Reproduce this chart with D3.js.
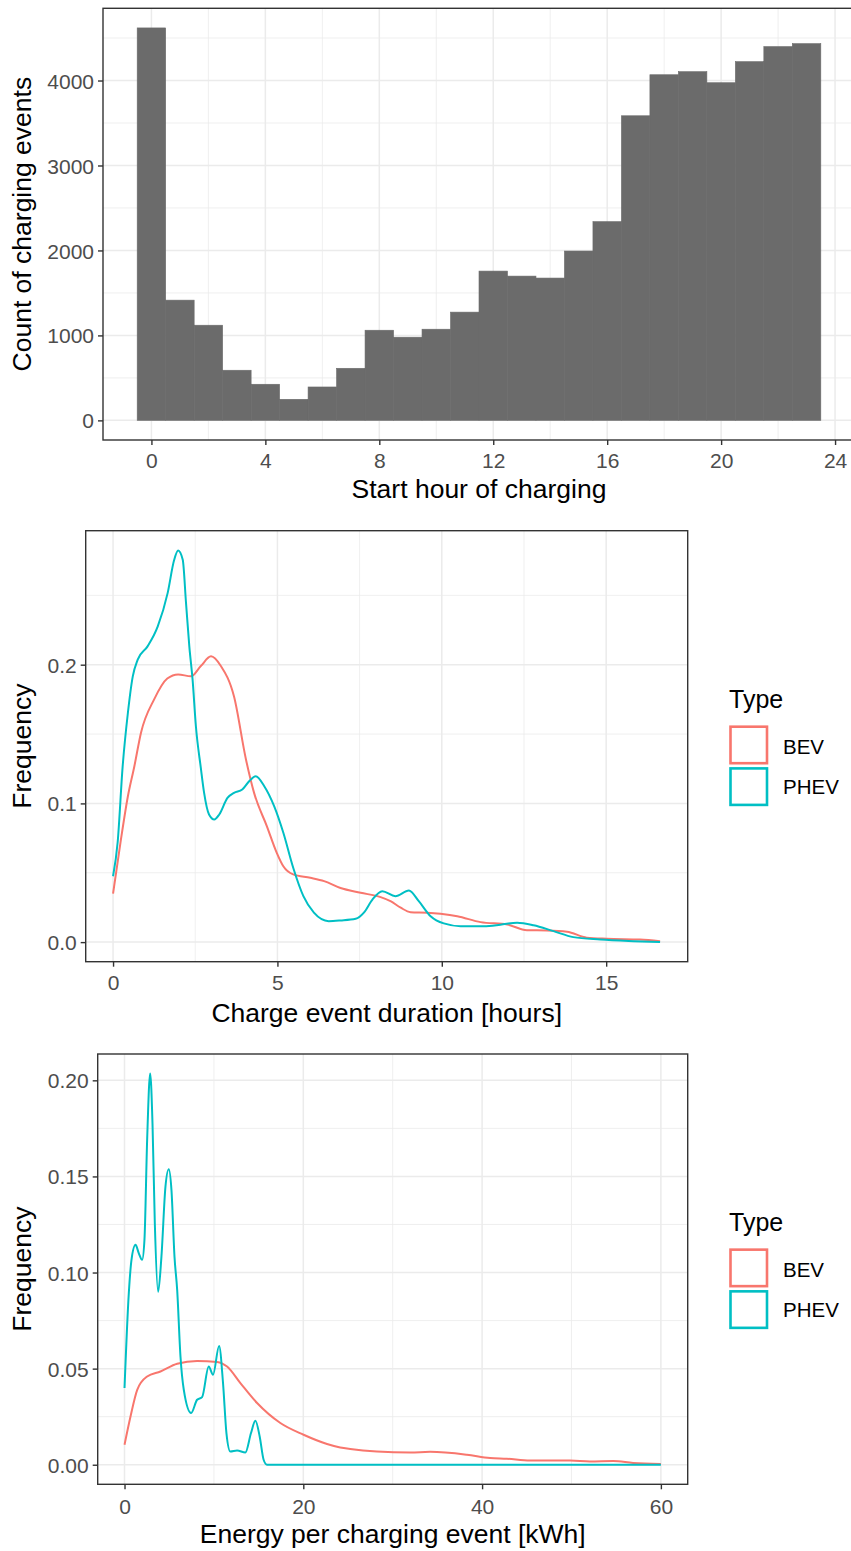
<!DOCTYPE html>
<html>
<head>
  <meta charset="utf-8"><script src="https://d3js.org/d3.v7.min.js"></script>
</head>
<body style="margin:0">
  <svg id="mychart" width="851" height="1551" style="background: white"></svg>
<script>
  // histogram: start hour of charging
  const hours = d3.range(0, 24)
  const hourCounts = [4619, 1415, 1120, 590, 425, 248, 393, 613, 1061, 979, 1073, 1274,
                      1757, 1698, 1675, 1993, 2339, 3585, 4068, 4104, 3974, 4222, 4399, 4434]
  const hourTicks = [0, 4, 8, 12, 16, 20, 24]
  const countTicks = [0, 1000, 2000, 3000, 4000]

  // density: charge event duration [hours]
  const durBevX = [0, 0.24, 0.45, 0.65, 0.85, 1.25, 1.65, 1.98, 2.37, 2.67, 2.98, 3.28, 3.68, 4.04, 4.29, 4.68, 4.98, 5.18, 5.48, 6.0, 6.42, 6.92, 7.53, 8.14, 8.44, 8.75, 9.05, 9.56, 9.96, 10.47, 11.18, 11.99, 12.59, 13.2, 13.81, 14.41, 15.02, 16.03, 16.64]
  const durBevY = [0.035, 0.074, 0.105, 0.127, 0.151, 0.175, 0.19, 0.193, 0.1916, 0.199, 0.206, 0.199, 0.177, 0.132, 0.1076, 0.0835, 0.0644, 0.0547, 0.0488, 0.0464, 0.044, 0.039, 0.0356, 0.0324, 0.0295, 0.0248, 0.0216, 0.0212, 0.0204, 0.0187, 0.0144, 0.0127, 0.0086, 0.0084, 0.0075, 0.0032, 0.0024, 0.0019, 0.0007]
  const durPhevX = [0, 0.14, 0.29, 0.45, 0.6, 0.75, 1.05, 1.36, 1.66, 1.86, 1.98, 2.12, 2.22, 2.32, 2.42, 2.52, 2.67, 2.77, 2.92, 3.08, 3.23, 3.48, 3.68, 3.93, 4.14, 4.34, 4.6, 4.9, 5.18, 5.48, 5.79, 6.11, 6.56, 6.92, 7.38, 7.63, 7.89, 8.19, 8.59, 9.0, 9.3, 9.66, 10.06, 10.57, 11.28, 11.78, 12.29, 12.79, 13.4, 14.0, 14.82, 15.83, 16.64]
  const durPhevY = [0.0475, 0.072, 0.126, 0.165, 0.1916, 0.2036, 0.2132, 0.2276, 0.2516, 0.2756, 0.2823, 0.2756, 0.2444, 0.2132, 0.189, 0.1556, 0.1256, 0.1076, 0.092, 0.0884, 0.092, 0.104, 0.1076, 0.11, 0.116, 0.1196, 0.1124, 0.098, 0.0788, 0.0536, 0.0331, 0.0212, 0.0151, 0.0156, 0.0168, 0.0212, 0.0307, 0.0367, 0.0331, 0.0372, 0.0295, 0.0187, 0.0135, 0.0115, 0.0115, 0.0125, 0.014, 0.0122, 0.0079, 0.0036, 0.0019, 0.0007, 0.0]
  const durTicks = [0, 5, 10, 15]
  const durFreqTicks = [0, 0.1, 0.2]

  // density: energy per charging event [kWh]
  const enBevX = [0, 0.67, 1.42, 2.53, 4.02, 5.89, 8.12, 10.36, 11.47, 12.96, 14.83, 17.43, 20.03, 22.65, 24.13, 25.25, 28.23, 31.96, 34.19, 38.3, 40.89, 42.76, 45.36, 49.83, 52.07, 54.67, 56.9, 60]
  const enBevY = [0.0104, 0.0251, 0.039, 0.0459, 0.0485, 0.0525, 0.054, 0.0535, 0.0511, 0.0425, 0.0321, 0.0217, 0.0156, 0.0108, 0.009, 0.0082, 0.0069, 0.0064, 0.0067, 0.0052, 0.0035, 0.0031, 0.0022, 0.0022, 0.0017, 0.0019, 0.0009, 0.0004]
  const enPhevX = [0, 0.48, 0.78, 1.23, 1.6, 1.97, 2.23, 2.53, 2.87, 3.13, 3.39, 3.76, 4.13, 4.58, 4.95, 5.25, 5.59, 5.89, 6.26, 6.63, 7.45, 8.12, 8.68, 9.42, 9.9, 10.58, 11.02, 11.4, 11.84, 12.59, 13.52, 14.15, 14.64, 15.12, 15.56, 15.94, 20, 30, 40, 50, 60]
  const enPhevY = [0.0399, 0.0893, 0.1066, 0.1144, 0.11, 0.1066, 0.117, 0.1689, 0.2036, 0.1776, 0.1256, 0.09, 0.1083, 0.1447, 0.1537, 0.143, 0.1083, 0.091, 0.0563, 0.039, 0.0269, 0.0338, 0.0352, 0.0511, 0.0468, 0.0618, 0.0425, 0.0165, 0.0069, 0.0074, 0.0064, 0.0165, 0.0229, 0.0147, 0.0026, 0, 0, 0, 0, 0, 0]
  const enTicks = [0, 20, 40, 60]
  const enFreqTicks = [0, 0.05, 0.1, 0.15, 0.2]

  const types = ["BEV", "PHEV"]
  const typeColors = ["#F8766D", "#00BFC4"]

  const svg = d3.select("#mychart")
  const font = "'Liberation Sans', Arial, Helvetica, sans-serif"

  // ggplot theme_bw-ish panel: grid, border, ticks, labels, titles
  function panel(p) {
    const x = d3.scaleLinear().domain(p.xdom).range([p.left, p.right])
    const y = d3.scaleLinear().domain(p.ydom).range([p.bottom, p.top])
    const g = svg.append("g")
    const clipId = "clip" + p.id
    g.append("clipPath").attr("id", clipId).append("rect")
      .attr("x", p.left).attr("y", p.top)
      .attr("width", p.right - p.left).attr("height", p.bottom - p.top)
    const inner = g.append("g").attr("clip-path", `url(#${clipId})`)

    // minor grid
    inner.selectAll(".xminor").data(p.xminor).join("line")
      .attr("x1", d => x(d)).attr("x2", d => x(d)).attr("y1", p.top).attr("y2", p.bottom)
      .attr("stroke", "#EBEBEB").attr("stroke-width", 0.8)
    inner.selectAll(".yminor").data(p.yminor).join("line")
      .attr("y1", d => y(d)).attr("y2", d => y(d)).attr("x1", p.left).attr("x2", p.right)
      .attr("stroke", "#EBEBEB").attr("stroke-width", 0.8)
    // major grid
    inner.selectAll(".xmajor").data(p.xticks).join("line")
      .attr("x1", d => x(d)).attr("x2", d => x(d)).attr("y1", p.top).attr("y2", p.bottom)
      .attr("stroke", "#EBEBEB").attr("stroke-width", 1.5)
    inner.selectAll(".ymajor").data(p.yticks).join("line")
      .attr("y1", d => y(d)).attr("y2", d => y(d)).attr("x1", p.left).attr("x2", p.right)
      .attr("stroke", "#EBEBEB").attr("stroke-width", 1.5)

    p.draw(inner, x, y)

    // border
    g.append("rect")
      .attr("x", p.left).attr("y", p.top)
      .attr("width", p.right - p.left).attr("height", p.bottom - p.top)
      .attr("fill", "none").attr("stroke", "#333333").attr("stroke-width", 1.4)

    // axes
    const xa = g.append("g").attr("transform", `translate(0,${p.bottom})`)
      .call(d3.axisBottom(x).tickValues(p.xticks).tickSize(5).tickPadding(4).tickFormat(p.xfmt || d3.format("d")))
    const ya = g.append("g").attr("transform", `translate(${p.left},0)`)
      .call(d3.axisLeft(y).tickValues(p.yticks).tickSize(5).tickPadding(4).tickFormat(p.yfmt))
    for (const a of [xa, ya]) {
      a.select(".domain").remove()
      a.selectAll(".tick line").attr("stroke", "#333333").attr("stroke-width", 1.4)
      a.selectAll(".tick text").attr("fill", "#4D4D4D").attr("font-size", 21).attr("font-family", font)
    }
    xa.selectAll(".tick text").attr("dy", null).attr("y", p.xlabBase - p.bottom)
    ya.selectAll(".tick text").attr("dy", "0.36em")

    g.append("text")
      .attr("x", (p.left + p.right) / 2).attr("y", p.xtitleBase)
      .attr("text-anchor", "middle").attr("font-size", 26.5).attr("font-family", font)
      .attr("fill", "black").text(p.xtitle)
    g.append("text")
      .attr("transform", `translate(31,${(p.top + p.bottom) / 2}) rotate(-90)`)
      .attr("text-anchor", "middle").attr("font-size", 26.5).attr("font-family", font)
      .attr("fill", "black").text(p.ytitle)

    if (p.legend) {
      const cy = (p.top + p.bottom) / 2
      const lg = g.append("g")
      lg.append("text").attr("x", 729).attr("y", cy - 38.5)
        .attr("font-size", 25).attr("font-family", font).text("Type")
      types.forEach((t, i) => {
        lg.append("rect")
          .attr("x", 730.5).attr("y", cy - 19.5 + i * 41.7)
          .attr("width", 36.5).attr("height", 36.5)
          .attr("fill", "white").attr("stroke", typeColors[i]).attr("stroke-width", 2.6)
        lg.append("text").attr("x", 783).attr("y", cy + 7.5 + i * 40)
          .attr("font-size", 20.5).attr("font-family", font).text(t)
      })
    }
  }

  function densityLines(xs, ys) {
    return (inner, x, y) => {
      const line = d3.line().x(d => x(d[0])).y(d => y(d[1])).curve(d3.curveMonotoneX)
      xs.forEach((arrX, i) => {
        inner.append("path")
          .datum(arrX.map((v, j) => [v, ys[i][j]]))
          .attr("fill", "none")
          .attr("stroke", typeColors[i])
          .attr("stroke-width", 2)
          .attr("stroke-linejoin", "round")
          .attr("d", line)
      })
    }
  }

  panel({
    id: 1, left: 103, right: 855, top: 8.3, bottom: 440,
    xdom: [-1.7, 24.7], ydom: [-231, 4850],
    xticks: hourTicks, xminor: [2, 6, 10, 14, 18, 22],
    yticks: countTicks, yminor: [500, 1500, 2500, 3500, 4500],
    yfmt: d3.format("d"),
    xlabBase: 468, xtitleBase: 498,
    xtitle: "Start hour of charging", ytitle: "Count of charging events",
    draw: (inner, x, y) => {
      inner.selectAll(".bar").data(hours).join("rect")
        .attr("x", d => x(d - 0.5)).attr("width", d => x(d + 0.5) - x(d - 0.5))
        .attr("y", (d, i) => y(hourCounts[i]))
        .attr("height", (d, i) => y(0) - y(hourCounts[i]))
        .attr("fill", "#6B6B6B")
        .attr("stroke", "#6B6B6B").attr("stroke-width", 0.6)
    }
  })

  panel({
    id: 2, left: 85.7, right: 687.7, top: 530.7, bottom: 961.7,
    xdom: [-0.832, 17.48], ydom: [-0.01412, 0.2966],
    xticks: durTicks, xminor: [2.5, 7.5, 12.5],
    yticks: durFreqTicks, yminor: [0.05, 0.15, 0.25],
    yfmt: d3.format(".1f"),
    xlabBase: 990, xtitleBase: 1021.5,
    xtitle: "Charge event duration [hours]", ytitle: "Frequency",
    legend: true,
    draw: densityLines([durBevX, durPhevX], [durBevY, durPhevY])
  })

  panel({
    id: 3, left: 97.7, right: 687.7, top: 1054, bottom: 1484.3,
    xdom: [-3, 63], ydom: [-0.01018, 0.2137],
    xticks: enTicks, xminor: [10, 30, 50],
    yticks: enFreqTicks, yminor: [0.025, 0.075, 0.125, 0.175],
    yfmt: d3.format(".2f"),
    xlabBase: 1514, xtitleBase: 1543,
    xtitle: "Energy per charging event [kWh]", ytitle: "Frequency",
    legend: true,
    draw: densityLines([enBevX, enPhevX], [enBevY, enPhevY])
  })
</script>
</body>
</html>
